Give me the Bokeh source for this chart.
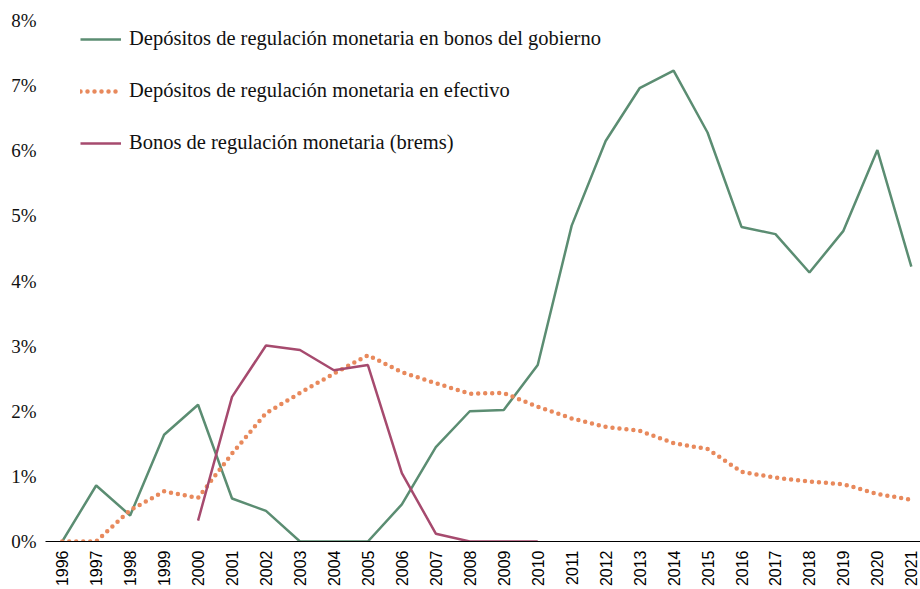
import math
from bokeh.plotting import figure
from bokeh.models import Range1d, Legend, LegendItem, FixedTicker, CustomJSTickFormatter
from bokeh.embed import file_html
from bokeh.resources import INLINE

years = list(range(1996, 2022))
bonos_gob = [0.0, 0.86, 0.40, 1.64, 2.10, 0.66, 0.47, 0.0, 0.0, 0.0, 0.57, 1.45, 2.00, 2.02,
             2.71, 4.85, 6.15, 6.96, 7.23, 6.28, 4.83, 4.72, 4.13, 4.77, 6.01, 4.22]
efectivo = [0.0, 0.0, 0.48, 0.77, 0.67, 1.35, 1.97, 2.28, 2.58, 2.86, 2.60, 2.43, 2.27, 2.28,
            2.07, 1.89, 1.76, 1.70, 1.51, 1.42, 1.07, 0.98, 0.92, 0.88, 0.73, 0.64]
brems_years = list(range(2000, 2011))
brems = [0.32, 2.22, 3.01, 2.94, 2.63, 2.71, 1.05, 0.12, 0.0, 0.0, 0.0]
y_ticks = [0, 1, 2, 3, 4, 5, 6, 7, 8]

labels = ["Depósitos de regulación monetaria en bonos del gobierno",
          "Depósitos de regulación monetaria en efectivo",
          "Bonos de regulación monetaria (brems)"]
GREEN = "#5B8D72"
ORANGE = "#E8895C"
MAROON = "#A64A6E"

p = figure(width=920, height=589, output_backend="svg", toolbar_location=None,
           x_range=Range1d(1995.508, 2021.27), y_range=Range1d(0, 8),
           min_border_left=45, min_border_right=0, min_border_top=20, min_border_bottom=47)
p.outline_line_color = None
p.xgrid.visible = False
p.ygrid.visible = False

r1 = p.line(years, bonos_gob, line_color=GREEN, line_width=2.5)
r2 = p.line(years, efectivo, line_color=ORANGE, line_width=4.5, line_dash="0 7", line_cap="round")
r3 = p.line(brems_years, brems, line_color=MAROON, line_width=2.5)

# x axis
xa = p.xaxis[0]
xa.ticker = FixedTicker(ticks=years)
xa.major_label_orientation = math.pi / 2
xa.major_label_text_font = "Liberation Sans"
xa.major_label_text_font_size = "16px"
xa.major_label_text_color = "#000000"
xa.axis_line_color = "#000000"
xa.axis_line_width = 1.2
xa.major_tick_line_color = None
xa.minor_tick_line_color = None
xa.major_tick_out = 0
xa.major_tick_in = 0
xa.minor_tick_out = 0
xa.minor_tick_in = 0
xa.major_label_standoff = 9

# y axis
ya = p.yaxis[0]
ya.ticker = FixedTicker(ticks=y_ticks)
ya.formatter = CustomJSTickFormatter(code="return tick.toFixed(0) + '%';")
ya.axis_line_color = None
ya.major_tick_line_color = None
ya.minor_tick_line_color = None
ya.major_tick_out = 0
ya.major_tick_in = 0
ya.minor_tick_out = 0
ya.minor_tick_in = 0
ya.major_label_text_font = "Liberation Serif"
ya.major_label_text_font_size = "19px"
ya.major_label_text_color = "#111111"
ya.major_label_standoff = 9

legend = Legend(items=[LegendItem(label=labels[0], renderers=[r1]),
                       LegendItem(label=labels[1], renderers=[r2]),
                       LegendItem(label=labels[2], renderers=[r3])],
                location=(35, 387))
legend.background_fill_alpha = 0
legend.border_line_color = None
legend.padding = 0
legend.margin = 0
legend.glyph_width = 41
legend.glyph_height = 20
legend.label_height = 20
legend.spacing = 29
legend.label_standoff = 8
legend.label_text_font = "Liberation Serif"
legend.label_text_font_size = "20.5px"
legend.label_text_color = "#111111"
p.add_layout(legend, "center")

open("out.html", "w").write(file_html(p, INLINE))
